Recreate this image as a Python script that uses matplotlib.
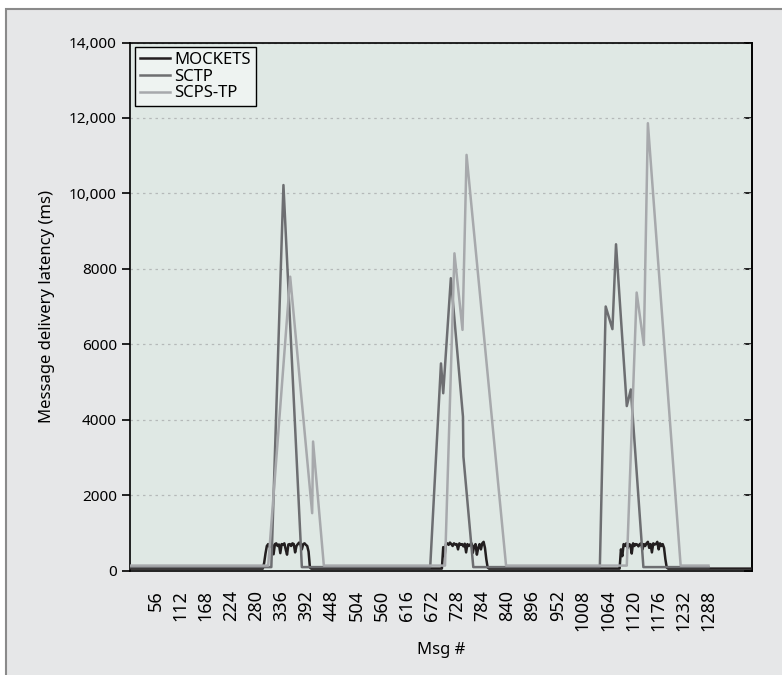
import matplotlib
matplotlib.use('Agg')
import matplotlib.pyplot as plt
import numpy as np
from matplotlib.patches import Rectangle

# ============================================================================
# Estilo geral
# ============================================================================
plt.rcParams['font.family'] = ['Noto Sans', 'DejaVu Sans']
COLORS = {'MOCKETS': '#231f20', 'SCTP': '#6d6e71', 'SCPS-TP': '#a7a9ac'}
PLOT_BG = '#dfe8e4'
PANEL_BG = '#e6e7e8'

# ============================================================================
# Dados (Msg #, latencia em ms)
# ============================================================================
# MOCKETS: linha de base + tres rajadas ruidosas (um valor a cada 3 msgs)
MOCKETS_BASE = 50
MOCKETS_LAST_MSG = 1385
BURST_STEP = 3
BURST_STARTS = [298, 697, 1093]
BURST_1 = [200, 450, 650, 700, 620, 720, 680, 430, 700, 720, 650, 690,
           460, 700, 680, 720, 560, 420, 690, 700, 650, 720, 700, 480,
           650, 700, 740, 690, 560, 700, 720, 680, 650, 500, 80]
BURST_2 = [620, 380, 700, 720, 680, 740, 700, 650, 720, 690, 700, 560,
           720, 680, 700, 640, 710, 480, 700, 650, 690, 720, 470, 650,
           700, 420, 600, 700, 560, 720, 760, 600, 300, 80]
BURST_3 = [560, 380, 700, 650, 720, 600, 700, 680, 450, 720, 650, 700,
           690, 640, 700, 720, 560, 700, 650, 720, 760, 600, 700, 480,
           720, 690, 700, 760, 560, 720, 650, 700, 600, 300, 80]

SCTP_MSG = [0, 314, 341, 382, 668, 692, 697, 714, 741, 742, 764,
            1046, 1059, 1074, 1082, 1106, 1115, 1143, 1288]
SCTP_MS = [90, 90, 10220, 90, 90, 5490, 4700, 7750, 4080, 3020, 90,
           90, 7000, 6400, 8650, 4360, 4800, 90, 90]

SCPS_MSG = [0, 307, 356, 405, 407, 431, 701, 722, 740, 749, 837,
            1106, 1128, 1144, 1153, 1226, 1288]
SCPS_MS = [130, 130, 7790, 1520, 3420, 130, 130, 8410, 6380, 11020, 130,
           130, 7370, 5980, 11860, 130, 130]

X_TICKS = list(range(56, 1289, 56))
Y_TICKS = [0, 2000, 4000, 6000, 8000, 10000, 12000, 14000]
Y_TICK_LABELS = ['0', '2000', '4000', '6000', '8000', '10,000', '12,000', '14,000']


def mockets_series():
    """Monta a serie MOCKETS: base constante com as rajadas."""
    xs, ys = [0], [MOCKETS_BASE]
    for start, burst in zip(BURST_STARTS, [BURST_1, BURST_2, BURST_3]):
        msgs = start + BURST_STEP * np.arange(len(burst))
        xs += [start - BURST_STEP] + list(msgs) + [msgs[-1] + BURST_STEP]
        ys += [MOCKETS_BASE] + burst + [MOCKETS_BASE]
    xs.append(MOCKETS_LAST_MSG)
    ys.append(MOCKETS_BASE)
    return xs, ys


fig = plt.figure(figsize=(7.82, 6.75), dpi=100, facecolor='white')
# painel cinza de fundo com borda
fig.patches.append(Rectangle((6 / 782, -0.01), 1.0, 1 - 9 / 675 + 0.01,
                             transform=fig.transFigure, facecolor=PANEL_BG,
                             edgecolor='#8a8a8a', linewidth=1.5, zorder=-10))

ax = fig.add_axes([129.5 / 782, 104.5 / 675, 622.5 / 782, 528 / 675])
ax.set_facecolor(PLOT_BG)

mx, my = mockets_series()
ax.plot(mx, my, color=COLORS['MOCKETS'], lw=1.8, label='MOCKETS', zorder=3)
ax.plot(SCTP_MSG, SCTP_MS, color=COLORS['SCTP'], lw=1.8, label='SCTP', zorder=4)
ax.plot(SCPS_MSG, SCPS_MS, color=COLORS['SCPS-TP'], lw=1.8, label='SCPS-TP', zorder=5)

ax.set_xlim(-2, 1385)
ax.set_ylim(0, 14000)
ax.set_xticks(X_TICKS)
ax.set_xticklabels([str(v) for v in X_TICKS], rotation=90, va='top', ha='center')
ax.set_yticks(Y_TICKS)
ax.set_yticklabels(Y_TICK_LABELS)
ax.tick_params(axis='x', length=0, pad=14, labelsize=13)
ax.tick_params(axis='y', direction='out', length=6, width=1.2, labelsize=11, pad=3)

# marcas do eixo direito voltadas para dentro
ax2 = ax.secondary_yaxis('right')
ax2.set_yticks(Y_TICKS)
ax2.tick_params(direction='in', length=6, width=1.2, labelright=False)
ax2.spines['right'].set_linewidth(1.2)

for s in ax.spines.values():
    s.set_color('black')
    s.set_linewidth(1.2)

ax.yaxis.grid(True, linestyle=(0, (2, 3)), color='#b5b9b9', linewidth=0.9)
ax.set_axisbelow(True)

ax.set_xlabel('Msg #', fontsize=12, labelpad=8)
ax.set_ylabel('Message delivery latency (ms)', fontsize=12, labelpad=10)

leg = ax.legend(loc='upper left', bbox_to_anchor=(0.009, 0.992), borderaxespad=0,
                fontsize=12, frameon=True, fancybox=False, framealpha=1,
                handlelength=1.8, handletextpad=0.25, labelspacing=0.05,
                borderpad=0.3)
leg.get_frame().set_edgecolor('black')
leg.get_frame().set_facecolor('#eef3f1')
leg.get_frame().set_linewidth(1.0)

fig.savefig('out.png', dpi=100, facecolor='white')
